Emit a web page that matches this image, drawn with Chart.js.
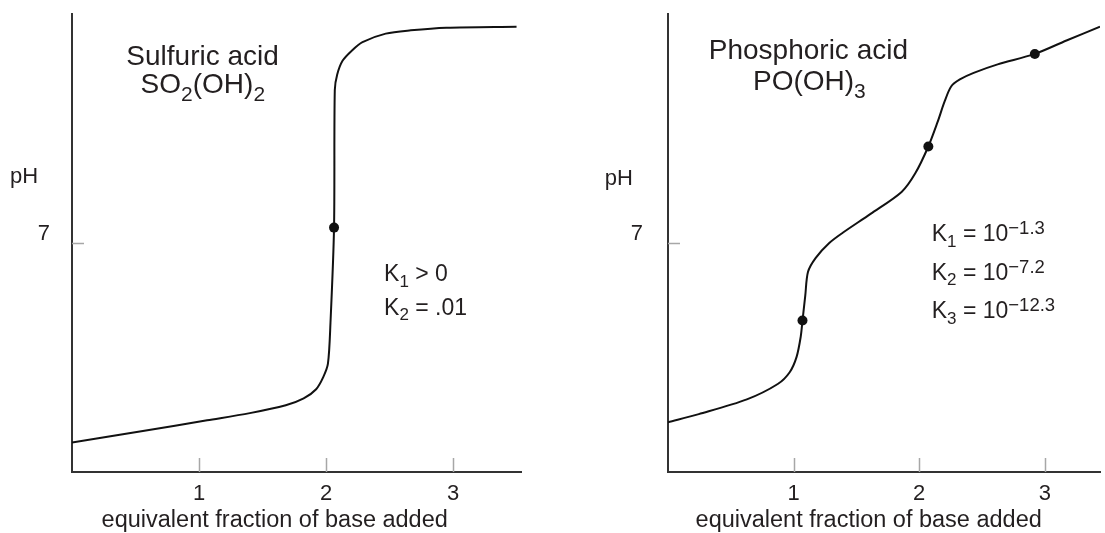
<!DOCTYPE html>
<html lang="en">
  <head>
    <meta charset="UTF-8" />
    <title>Titration curves</title>
    <style>
      body { margin: 0; background: #fff; }
      .row { display: flex; width: 1105px; height: 533px; }
    </style>
  </head>
  <body>
    <div class="row">
      <canvas id="leftChart" width="552" height="533"></canvas>
      <canvas id="rightChart" width="553" height="533"></canvas>
    </div>
    <script src="https://cdn.jsdelivr.net/npm/chart.js@4.4.1/dist/chart.umd.min.js"></script>
    <script>
      // tick values shown on the axes
      const xTicks = [1, 2, 3];
      const yTicks = [7];

      // sulfuric acid curve (equivalents of base vs pH)
      const sulfuricX = [0, 0.558, 1.064, 1.4, 1.683, 1.824, 1.922, 1.978, 2.015, 2.035, 2.063,
        2.069, 2.088, 2.13, 2.203, 2.287, 2.47, 2.667, 2.948, 3.5];
      const sulfuricPH = [0.9, 1.25, 1.58, 1.8, 2.04, 2.25, 2.53, 2.9, 3.31, 4.56, 7.47,
        11.68, 12.15, 12.57, 12.88, 13.14, 13.4, 13.5, 13.58, 13.61];
      const sulfuricDotX = [2.063];
      const sulfuricDotPH = [7.47];

      // phosphoric acid curve
      const phosphoricX = [0, 0.245, 0.628, 0.874, 0.969, 1.024, 1.057, 1.071, 1.093, 1.115,
        1.175, 1.284, 1.394, 1.613, 1.86, 1.969, 2.073, 2.147, 2.202, 2.256, 2.324, 2.434,
        2.625, 2.921, 3.173, 3.44];
      const phosphoricPH = [1.52, 1.77, 2.22, 2.69, 3.05, 3.52, 4.14, 4.63, 5.39, 6.12,
        6.54, 7.0, 7.32, 7.89, 8.56, 9.13, 9.95, 10.7, 11.32, 11.79, 12.0, 12.2,
        12.46, 12.78, 13.19, 13.61];
      const phosphoricDotX = [1.071, 2.073, 2.921];
      const phosphoricDotPH = [4.63, 9.95, 12.78];

      const FONT = '"Liberation Sans", Arial, Helvetica, sans-serif';
      const INK = "#231f20";
      const xTitle = "equivalent fraction of base added";

      // rich text: parts are [text, kind] with kind "", "sub" or "sup"
      function drawRich(ctx, item) {
        const size = item.size;
        const sizeOf = (k) => (k === "sup" ? item.supSize || item.small : k ? item.small : size) || Math.round(size * 0.75);
        const widths = item.parts.map(([t, k]) => {
          ctx.font = sizeOf(k) + "px " + FONT;
          return ctx.measureText(t).width;
        });
        const total = widths.reduce((a, b) => a + b, 0);
        let cx = item.px;
        if (item.align === "center") cx -= total / 2;
        item.parts.forEach(([t, k], i) => {
          ctx.font = sizeOf(k) + "px " + FONT;
          let dy = 0;
          if (k === "sub") dy = item.subDy || size * 0.3;
          if (k === "sup") dy = -(item.supDy || size * 0.37);
          ctx.fillText(t, cx, item.py + dy);
          cx += widths[i];
        });
      }

      const decorPlugin = {
        id: "decor",
        afterDraw(chart) {
          const { ctx, chartArea, scales } = chart;
          const opts = chart.options.plugins.decor;
          ctx.save();
          // inward tick marks
          ctx.strokeStyle = "#a7a7a7";
          ctx.lineWidth = 1.5;
          ctx.beginPath();
          xTicks.forEach((v) => {
            const px = Math.round(scales.x.getPixelForValue(v)) + 0.5;
            ctx.moveTo(px, chartArea.bottom);
            ctx.lineTo(px, chartArea.bottom - 14);
          });
          yTicks.forEach((v) => {
            const py = Math.round(scales.y.getPixelForValue(v)) + 0.5;
            ctx.moveTo(chartArea.left, py);
            ctx.lineTo(chartArea.left + 12, py);
          });
          ctx.stroke();
          // texts
          ctx.fillStyle = INK;
          ctx.textBaseline = "alphabetic";
          ctx.textAlign = "left";
          opts.texts.forEach((item) => {
            item.px = scales.x.getPixelForValue(item.x);
            item.py = scales.y.getPixelForValue(item.y);
            drawRich(ctx, item);
          });
          ctx.restore();
        },
      };

      function makeChart(id, xs, ys, dotXs, dotYs, cfg) {
        const line = xs.map((x, i) => ({ x: x, y: ys[i] }));
        const dots = dotXs.map((x, i) => ({ x: x, y: dotYs[i] }));
        return new Chart(document.getElementById(id), {
          type: "scatter",
          plugins: [decorPlugin],
          data: {
            datasets: [
              {
                data: line,
                showLine: true,
                borderColor: "#111",
                borderWidth: 2,
                pointRadius: 0,
                tension: 0.3,
                fill: false,
              },
              {
                data: dots,
                showLine: false,
                pointRadius: 5,
                pointBackgroundColor: "#111",
                pointBorderWidth: 0,
              },
            ],
          },
          options: {
            responsive: false,
            animation: false,
            layout: { padding: { top: 14, right: cfg.padRight, left: 0, bottom: 0 } },
            plugins: {
              legend: { display: false },
              tooltip: { enabled: false },
              decor: { texts: cfg.texts },
            },
            scales: {
              x: {
                type: "linear",
                min: 0,
                max: cfg.xMax,
                afterBuildTicks: (s) => { s.ticks = xTicks.map((v) => ({ value: v })); },
                afterFit: (s) => {
                  s.height = 61;
                  s.paddingLeft = 0;
                  s.paddingRight = 0;
                },
                grid: { display: false },
                border: { display: true, color: "#333", width: 2 },
                ticks: {
                  color: INK,
                  font: { family: FONT, size: 22 },
                  padding: 1,
                  maxRotation: 0,
                  autoSkip: false,
                },
              },
              y: {
                type: "linear",
                min: 0,
                max: 14,
                afterBuildTicks: (s) => { s.ticks = yTicks.map((v) => ({ value: v })); },
                afterFit: (s) => {
                  s.width = cfg.yWidth;
                  s.paddingTop = 0;
                  s.paddingBottom = 0;
                },
                grid: { display: false },
                border: { display: true, color: "#333", width: 2 },
                ticks: {
                  color: INK,
                  font: { family: FONT, size: 22 },
                  padding: cfg.yPad,
                  labelOffset: -9,
                },
              },
            },
          },
        });
      }

      makeChart("leftChart", sulfuricX, sulfuricPH, sulfuricDotX, sulfuricDotPH, {
        xMax: 3.535,
        yWidth: 72,
        yPad: 14,
        padRight: 31,
        texts: [
          { x: 1.028, y: 12.45, align: "center", size: 28, parts: [["Sulfuric acid", ""]] },
          { x: 1.03, y: 11.6, align: "center", size: 28, small: 21, subDy: 8.7,
            parts: [["SO", ""], ["2", "sub"], ["(OH)", ""], ["2", "sub"]] },
          { x: 2.457, y: 5.83, align: "left", size: 23, small: 17, subDy: 5.7,
            parts: [["K", ""], ["1", "sub"], [" > 0", ""]] },
          { x: 2.457, y: 4.81, align: "left", size: 23, small: 17, subDy: 5.7,
            parts: [["K", ""], ["2", "sub"], [" = .01", ""]] },
          { x: -0.488, y: 8.84, align: "left", size: 22, parts: [["pH", ""]] },
          { x: 1.596, y: -1.67, align: "center", size: 23.5, parts: [[xTitle, ""]] },
        ],
      });

      makeChart("rightChart", phosphoricX, phosphoricPH, phosphoricDotX, phosphoricDotPH, {
        xMax: 3.44,
        yWidth: 116,
        yPad: 17,
        padRight: 0,
        texts: [
          { x: 1.118, y: 12.62, align: "center", size: 28, parts: [["Phosphoric acid", ""]] },
          { x: 1.126, y: 11.69, align: "center", size: 28, small: 21, subDy: 8.7,
            parts: [["PO(OH)", ""], ["3", "sub"]] },
          { x: 2.1, y: 7.05, align: "left", size: 23, small: 17, supSize: 18.5, subDy: 5.7, supDy: 7,
            parts: [["K", ""], ["1", "sub"], [" = 10", ""], ["\u22121.3", "sup"]] },
          { x: 2.1, y: 5.88, align: "left", size: 23, small: 17, supSize: 18.5, subDy: 5.7, supDy: 7,
            parts: [["K", ""], ["2", "sub"], [" = 10", ""], ["\u22127.2", "sup"]] },
          { x: 2.1, y: 4.71, align: "left", size: 23, small: 17, supSize: 18.5, subDy: 5.7, supDy: 7,
            parts: [["K", ""], ["3", "sub"], [" = 10", ""], ["\u221212.3", "sup"]] },
          { x: -0.504, y: 8.78, align: "left", size: 22, parts: [["pH", ""]] },
          { x: 1.598, y: -1.67, align: "center", size: 23.5, parts: [[xTitle, ""]] },
        ],
      });
    </script>
  </body>
</html>
